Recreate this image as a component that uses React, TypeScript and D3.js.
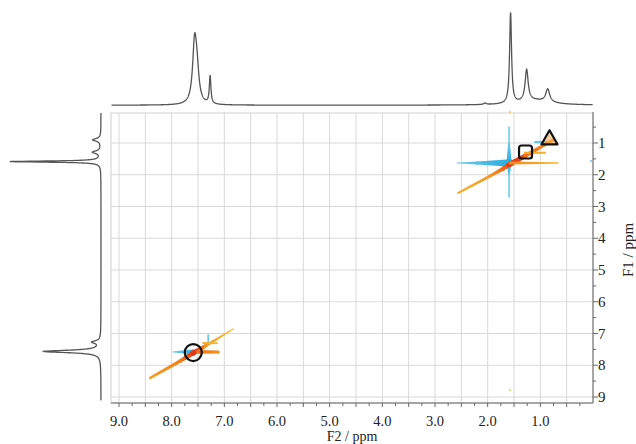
import React from 'react';
import * as d3 from 'd3';

// ---------- data ----------
const xTickValues = [9, 8, 7, 6, 5, 4, 3, 2, 1];
const xTickLabels = ['9.0', '8.0', '7.0', '6.0', '5.0', '4.0', '3.0', '2.0', '1.0'];
const xGridValues = [9, 8.5, 8, 7.5, 7, 6.5, 6, 5.5, 5, 4.5, 4, 3.5, 3, 2.5, 2, 1.5, 1, 0.5];
const yTickValues = [1, 2, 3, 4, 5, 6, 7, 8, 9];
const yTickLabels = ['1', '2', '3', '4', '5', '6', '7', '8', '9'];

// F2 (top) projection: peak position (ppm), height, half width (ppm)
const topPeakPpm = [7.565, 7.52, 7.27, 2.05, 1.565, 1.26, 0.86, 1.1];
const topPeakHeight = [62, 30, 30, 1.5, 98, 34, 14, 5];
const topPeakHalfWidth = [0.045, 0.045, 0.018, 0.03, 0.022, 0.035, 0.045, 0.35];

// F1 (left) projection
const leftPeakPpm = [0.9, 1.29, 1.585, 7.27, 7.565];
const leftPeakHeight = [9, 9, 100, 9, 63];
const leftPeakHalfWidth = [0.05, 0.05, 0.022, 0.05, 0.045];

// 2D contour streaks: start/end (F2, F1) in ppm, relative level at each end, phase
const streakF2Start = [2.58, 2.2, 1.594, 1.594, 1.594, 1.10, 7.97, 7.306,
  2.562, 1.954, 1.70, 1.575, 1.290, 1.575, 1.29,
  8.406, 7.837, 7.590, 7.362, 7.495, 7.40];
const streakF1Start = [1.63, 1.63, 0.5, 1.0, 1.6, 0.97, 7.58, 7.05,
  2.575, 2.039, 1.80, 1.661, 1.409, 1.63, 1.31,
  8.400, 7.865, 7.613, 7.394, 7.58, 7.30];
const streakF2End = [2.2, 1.575, 1.594, 1.594, 1.594, 0.85, 7.59, 7.306,
  1.954, 1.70, 1.575, 1.290, 0.759, 0.664, 0.91,
  7.837, 7.590, 7.362, 6.831, 7.116, 7.135];
const streakF1End = [1.63, 1.63, 2.7, 1.6, 2.0, 0.97, 7.58, 7.33,
  2.039, 1.80, 1.661, 1.409, 0.906, 1.63, 1.31,
  7.865, 7.613, 7.394, 6.858, 7.58, 7.30];
const streakLevelStart = [0.05, 0.5, 0.15, 0.2, 1.0, 0.3, 0.05, 0.2,
  0.25, 0.45, 0.75, 1.0, 0.7, 0.55, 0.35,
  0.4, 0.6, 1.0, 0.5, 0.7, 0.3];
const streakLevelEnd = [0.5, 1.6, 0.15, 1.0, 0.2, 0.4, 1.0, 0.2,
  0.45, 0.75, 1.0, 0.9, 0.5, 0.15, 0.25,
  0.6, 1.0, 0.6, 0.08, 0.5, 0.2];
const streakPhase = [-1, -1, -1, -1, -1, -1, -1, -1,
  1, 1, 1, 1, 1, 1, 1,
  1, 1, 1, 1, 1, 1];

// small isolated artefact dots (F2, F1, phase)
const dotF2 = [1.575, 1.575, 0.038];
const dotF1 = [0.02, 8.78, 1.567];
const dotPhase = [1, 1, -1];

// peak markers (F2, F1)
const circleMarker = [7.59, 7.6];
const squareMarker = [1.281, 1.283];
const triangleMarker = [0.826, 0.874];

// ---------- component ----------
const W = 636;
const H = 444;
const FONT = "Liberation Serif, Times New Roman, Times, serif";

function lorentz(p: number, c: number[], h: number[], w: number[]) {
  let s = 0;
  for (let i = 0; i < c.length; i++) {
    const d = (p - c[i]) / w[i];
    s += h[i] / (1 + d * d);
  }
  return s;
}

export default function App() {
  const x = d3.scaleLinear().domain([9, 0]).range([119, 593]);
  const y = d3.scaleLinear().domain([1, 9]).range([143, 397]);
  const left = 111, right = 593, top = 113, bottom = 403;
  const f2Min = x.invert(right), f2Max = x.invert(left);
  const f1Min = y.invert(top), f1Max = y.invert(bottom);

  const topY = d3.scaleLinear().domain([0, 100]).range([105.2, 12.5]);
  const leftX = d3.scaleLinear().domain([0, 100]).range([101, 10]);

  const topSamples = d3.range(f2Max - 0.01, f2Min + 0.005, -0.003);
  const topLine = d3.line<number>()
    .x((p) => x(p))
    .y((p) => topY(lorentz(p, topPeakPpm, topPeakHeight, topPeakHalfWidth)))(topSamples) || '';

  const leftSamples = d3.range(f1Min, f1Max - 0.08, 0.003);
  const leftLine = d3.line<number>()
    .x((p) => leftX(lorentz(p, leftPeakPpm, leftPeakHeight, leftPeakHalfWidth)))
    .y((p) => y(p))(leftSamples) || '';

  const width = d3.scaleLinear().domain([0, 1]).range([1, 5]);
  const posColor = d3.scaleLinear<string>()
    .domain([0, 0.4, 0.75, 1])
    .range(['#fad040', '#f5a020', '#ee6a1c', '#e2381a'])
    .clamp(true);
  const negColor = d3.scaleLinear<string>()
    .domain([0, 1])
    .range(['#7fd0ee', '#2aaede'])
    .clamp(true);

  const streaks = streakF2Start.map((_, i) => {
    const x0 = x(streakF2Start[i]), y0 = y(streakF1Start[i]);
    const x1 = x(streakF2End[i]), y1 = y(streakF1End[i]);
    const len = Math.hypot(x1 - x0, y1 - y0) || 1;
    const nx = -(y1 - y0) / len, ny = (x1 - x0) / len;
    const w0 = width(streakLevelStart[i]) / 2, w1 = width(streakLevelEnd[i]) / 2;
    const pts = [
      [x0 + nx * w0, y0 + ny * w0],
      [x1 + nx * w1, y1 + ny * w1],
      [x1 - nx * w1, y1 - ny * w1],
      [x0 - nx * w0, y0 - ny * w0],
    ];
    const c0 = streakPhase[i] > 0 ? posColor(streakLevelStart[i]) : negColor(streakLevelStart[i]);
    const c1 = streakPhase[i] > 0 ? posColor(streakLevelEnd[i]) : negColor(streakLevelEnd[i]);
    return { i, pts, c0, c1, phase: streakPhase[i], x0, y0, x1, y1, w0, w1 };
  });
  const order = [...streaks].sort((a, b) => a.phase - b.phase);

  const tri = (() => {
    const cx = x(triangleMarker[0]), cy = y(triangleMarker[1]);
    const s = 16, h = 14;
    return `M${cx},${cy - h * 0.62}L${cx + s / 2},${cy + h * 0.38}L${cx - s / 2},${cy + h * 0.38}Z`;
  })();

  const minorX = d3.range(9, 0.1, -0.25);
  const minorY = d3.range(0.5, 9.1, 0.5);

  return (
    <svg width={W} height={H} style={{ position: 'absolute', left: 0, top: 0, background: '#fff' }}
      xmlns="http://www.w3.org/2000/svg">
      <defs>
        {streaks.map((s) => (
          <linearGradient key={'g' + s.i} id={'sg' + s.i} gradientUnits="userSpaceOnUse"
            x1={s.x0} y1={s.y0} x2={s.x1 === s.x0 && s.y1 === s.y0 ? s.x1 + 1 : s.x1} y2={s.y1}>
            <stop offset="0" stopColor={s.c0} />
            <stop offset="1" stopColor={s.c1} />
          </linearGradient>
        ))}
      </defs>
      <rect x={0} y={0} width={W} height={H} fill="#fff" />
      {/* grid */}
      <g stroke="#d9d9d9" strokeWidth={1}>
        {xGridValues.map((v) => (
          <line key={'gx' + v} x1={x(v)} x2={x(v)} y1={top} y2={bottom} />
        ))}
        {yTickValues.map((v) => (
          <line key={'gy' + v} x1={left} x2={right} y1={y(v)} y2={y(v)} />
        ))}
        <rect x={left} y={top} width={right - left} height={bottom - top} fill="none" stroke="#cfcfcf" />
      </g>
      {/* contours */}
      <g>
        {order.map((s) => (
          <g key={'s' + s.i}>
            <polygon points={s.pts.map((p) => p.join(',')).join(' ')} fill={`url(#sg${s.i})`} />
            <circle cx={s.x0} cy={s.y0} r={s.w0} fill={s.c0} />
            <circle cx={s.x1} cy={s.y1} r={s.w1} fill={s.c1} />
          </g>
        ))}
        {dotF2.map((v, i) => (
          <circle key={'d' + i} cx={x(v)} cy={y(dotF1[i])} r={1}
            fill={dotPhase[i] > 0 ? '#f5c84a' : '#6cc6ea'} />
        ))}
      </g>
      {/* markers */}
      <g fill="none" stroke="#111" strokeWidth={2.2}>
        <circle cx={x(circleMarker[0])} cy={y(circleMarker[1])} r={8.5} />
        <rect x={x(squareMarker[0]) - 6.5} y={y(squareMarker[1]) - 6.5} width={13} height={13} rx={2.5} />
        <path d={tri} fill="rgba(246,170,80,0.55)" strokeLinejoin="round" />
      </g>
      {/* axes */}
      <g stroke="#666" strokeWidth={1}>
        <line x1={left} x2={right} y1={bottom} y2={bottom} />
        <line x1={right} x2={right} y1={top - 1} y2={bottom} />
        {minorX.map((v) => (
          <line key={'tx' + v} x1={x(v)} x2={x(v)} y1={bottom} y2={bottom + (Math.abs(v * 2 - Math.round(v * 2)) < 1e-6 ? 4 : 3)} />
        ))}
        {minorY.map((v) => (
          <line key={'ty' + v} x1={right} x2={right + (Math.abs(v - Math.round(v)) < 1e-6 ? 5 : 3)} y1={y(v)} y2={y(v)} />
        ))}
      </g>
      <g fontFamily={FONT} fill="#222">
        {xTickValues.map((v, i) => (
          <text key={'lx' + v} x={x(v)} y={426} fontSize={14.5} textAnchor="middle">{xTickLabels[i]}</text>
        ))}
        {yTickValues.map((v, i) => (
          <text key={'ly' + v} x={598} y={y(v) + 5} fontSize={15}>{yTickLabels[i]}</text>
        ))}
        <text x={(left + right) / 2} y={441} fontSize={14} textAnchor="middle">F2 / ppm</text>
        <text transform={`translate(633,250) rotate(-90)`} fontSize={15} textAnchor="middle">F1 / ppm</text>
      </g>
      {/* 1D projections */}
      <path d={topLine} fill="none" stroke="#555" strokeWidth={1.3} />
      <path d={leftLine} fill="none" stroke="#555" strokeWidth={1.3} />
    </svg>
  );
}
